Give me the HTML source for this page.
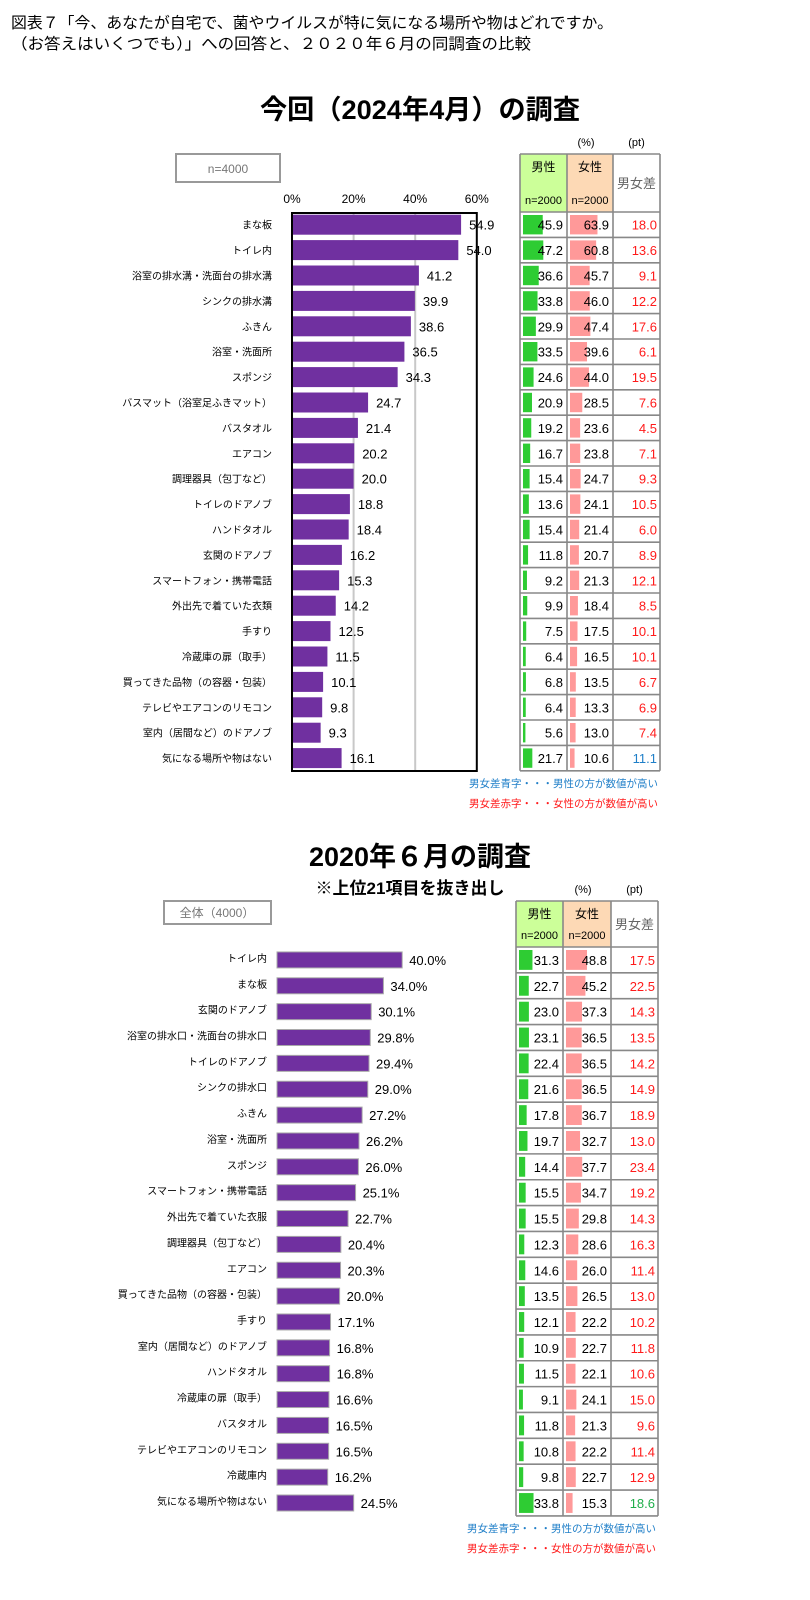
<!DOCTYPE html>
<html><head><meta charset="utf-8"><style>
body{margin:0;background:#fff}
svg{display:block;font-family:"Liberation Sans","Noto Sans CJK JP",sans-serif}
</style></head><body>
<svg id="s" width="810" height="1600" xmlns="http://www.w3.org/2000/svg">
<text x="11" y="28" font-size="15.5" textLength="602" lengthAdjust="spacingAndGlyphs">図表７「今、あなたが自宅で、菌やウイルスが特に気になる場所や物はどれですか。</text>
<text x="11" y="49" font-size="15.5" textLength="520" lengthAdjust="spacingAndGlyphs">（お答えはいくつでも）」への回答と、２０２０年６月の同調査の比較</text>
<text x="420" y="119" font-size="27" font-weight="bold" text-anchor="middle" textLength="320" lengthAdjust="spacingAndGlyphs">今回（2024年4月）の調査</text>
<text x="420" y="866" font-size="27" font-weight="bold" text-anchor="middle">2020年６月の調査</text>
<text x="410" y="894" font-size="17" font-weight="bold" text-anchor="middle">※上位21項目を抜き出し</text>
</svg>
<script>
const labels1=["まな板","トイレ内","浴室の排水溝・洗面台の排水溝","シンクの排水溝","ふきん","浴室・洗面所","スポンジ","バスマット（浴室足ふきマット）","バスタオル","エアコン","調理器具（包丁など）","トイレのドアノブ","ハンドタオル","玄関のドアノブ","スマートフォン・携帯電話","外出先で着ていた衣類","手すり","冷蔵庫の扉（取手）","買ってきた品物（の容器・包装）","テレビやエアコンのリモコン","室内（居間など）のドアノブ","気になる場所や物はない"];
const total1=[54.9,54.0,41.2,39.9,38.6,36.5,34.3,24.7,21.4,20.2,20.0,18.8,18.4,16.2,15.3,14.2,12.5,11.5,10.1,9.8,9.3,16.1];
const male1=[45.9,47.2,36.6,33.8,29.9,33.5,24.6,20.9,19.2,16.7,15.4,13.6,15.4,11.8,9.2,9.9,7.5,6.4,6.8,6.4,5.6,21.7];
const female1=[63.9,60.8,45.7,46.0,47.4,39.6,44.0,28.5,23.6,23.8,24.7,24.1,21.4,20.7,21.3,18.4,17.5,16.5,13.5,13.3,13.0,10.6];
const diff1=[18.0,13.6,9.1,12.2,17.6,6.1,19.5,7.6,4.5,7.1,9.3,10.5,6.0,8.9,12.1,8.5,10.1,10.1,6.7,6.9,7.4,11.1];
const diffColor1=["r","r","r","r","r","r","r","r","r","r","r","r","r","r","r","r","r","r","r","r","r","b"];
const ticks1=[0,20,40,60];
const labels2=["トイレ内","まな板","玄関のドアノブ","浴室の排水口・洗面台の排水口","トイレのドアノブ","シンクの排水口","ふきん","浴室・洗面所","スポンジ","スマートフォン・携帯電話","外出先で着ていた衣服","調理器具（包丁など）","エアコン","買ってきた品物（の容器・包装）","手すり","室内（居間など）のドアノブ","ハンドタオル","冷蔵庫の扉（取手）","バスタオル","テレビやエアコンのリモコン","冷蔵庫内","気になる場所や物はない"];
const total2=[40.0,34.0,30.1,29.8,29.4,29.0,27.2,26.2,26.0,25.1,22.7,20.4,20.3,20.0,17.1,16.8,16.8,16.6,16.5,16.5,16.2,24.5];
const male2=[31.3,22.7,23.0,23.1,22.4,21.6,17.8,19.7,14.4,15.5,15.5,12.3,14.6,13.5,12.1,10.9,11.5,9.1,11.8,10.8,9.8,33.8];
const female2=[48.8,45.2,37.3,36.5,36.5,36.5,36.7,32.7,37.7,34.7,29.8,28.6,26.0,26.5,22.2,22.7,22.1,24.1,21.3,22.2,22.7,15.3];
const diff2=[17.5,22.5,14.3,13.5,14.2,14.9,18.9,13.0,23.4,19.2,14.3,16.3,11.4,13.0,10.2,11.8,10.6,15.0,9.6,11.4,12.9,18.6];
const diffColor2=["r","r","r","r","r","r","r","r","r","r","r","r","r","r","r","r","r","r","r","r","r","g"];

const S=document.getElementById('s');
const NS='http://www.w3.org/2000/svg';
function mk(tag,attrs,txt){const e=document.createElementNS(NS,tag);for(const k in attrs)e.setAttribute(k,attrs[k]);if(txt!==undefined)e.textContent=txt;S.appendChild(e);return e;}
const COL={r:"#ff1a1a",b:"#1f7fc8",g:"#1fae4a"};

// ---- Chart 1 ----
const x1=v=>292+v*3.08;
const y1=i=>212+25.4*i+12.7;
let e;
e=mk('rect',{x:176,y:154,width:104,height:28,fill:'#fff',stroke:'#999','stroke-width':2});


e=mk('text',{x:228,y:173,'font-size':12,fill:'#777','text-anchor':'middle'},'n=4000');


ticks1.forEach(t=>{
  e=mk('text',{x:x1(t),y:203,'font-size':12,'text-anchor':'middle'},t+'%');
  
  
  if(t>0&&t<60){
    e=mk('line',{x1:x1(t),x2:x1(t),y1:213,y2:771,stroke:'#c8c8c8','stroke-width':2});
    
    
  }
});
total1.forEach((v,i)=>{
  e=mk('rect',{x:x1(0),y:y1(i)-10,width:x1(v)-x1(0),height:20,fill:'#7030a0'});
  
  
  e=mk('text',{x:x1(v)+8,y:y1(i)+5,'font-size':13},v.toFixed(1));
  
  
  e=mk('text',{x:272,y:y1(i)+4,'font-size':10,'text-anchor':'end'},labels1[i]);
  
  
});
e=mk('rect',{x:292,y:213,width:x1(60)-292,height:558,fill:'none',stroke:'#000','stroke-width':2});



function table(L,T,hH,rH,cw,male,female,diff,dc,prefix){
  const xs=[L,L+cw[0],L+cw[0]+cw[1],L+cw[0]+cw[1]+cw[2]];
  e=mk('text',{x:(xs[1]+xs[2])/2-4,y:T-8,'font-size':11,'text-anchor':'middle'},'(%)');
  
  
  e=mk('text',{x:(xs[2]+xs[3])/2,y:T-8,'font-size':11,'text-anchor':'middle'},'(pt)');
  
  
  e=mk('rect',{x:xs[0],y:T,width:cw[0],height:hH,fill:'#ccff99'});
  
  
  e=mk('rect',{x:xs[1],y:T,width:cw[1],height:hH,fill:'#fdd9b5'});
  
  
  e=mk('text',{x:(xs[0]+xs[1])/2,y:T+17,'font-size':12,'text-anchor':'middle'},'男性');
  
  
  e=mk('text',{x:(xs[1]+xs[2])/2,y:T+17,'font-size':12,'text-anchor':'middle'},'女性');
  
  
  e=mk('text',{x:(xs[0]+xs[1])/2,y:T+hH-8,'font-size':11,'text-anchor':'middle'},'n=2000');
  
  
  e=mk('text',{x:(xs[1]+xs[2])/2,y:T+hH-8,'font-size':11,'text-anchor':'middle'},'n=2000');
  
  
  e=mk('text',{x:(xs[2]+xs[3])/2,y:T+hH/2+5,'font-size':13,fill:'#666','text-anchor':'middle'},'男女差');
  
  
  const sc=0.43;
  male.forEach((v,i)=>{
    const top=T+hH+rH*i;
    e=mk('rect',{x:xs[0]+3,y:top+3,width:v*sc,height:rH-6,fill:'#2ecc33'});
    
    
    e=mk('rect',{x:xs[1]+3,y:top+3,width:female[i]*sc,height:rH-6,fill:'#ff9999'});
    
    
    e=mk('text',{x:xs[1]-4,y:top+rH/2+5,'font-size':13,'text-anchor':'end'},v.toFixed(1));
    
    
    e=mk('text',{x:xs[2]-4,y:top+rH/2+5,'font-size':13,'text-anchor':'end'},female[i].toFixed(1));
    
    
    e=mk('text',{x:xs[3]-3,y:top+rH/2+5,'font-size':13,'text-anchor':'end',fill:COL[dc[i]]},diff[i].toFixed(1));
    
    
  });
  const B=T+hH+rH*male.length;
  for(let i=0;i<=male.length;i++){
    e=mk('line',{x1:L,x2:xs[3],y1:T+hH+rH*i,y2:T+hH+rH*i,stroke:'#888','stroke-width':1.6});
    
    
  }
  e=mk('line',{x1:L,x2:xs[3],y1:T,y2:T,stroke:'#888','stroke-width':1.6});
  
  
  xs.forEach(x=>{
    e=mk('line',{x1:x,x2:x,y1:T,y2:B,stroke:'#888','stroke-width':1.6});
    
    
  });
  e=mk('text',{x:xs[3]-2,y:B+16,'font-size':10.5,'text-anchor':'end',fill:COL.b},'男女差青字・・・男性の方が数値が高い');
  
  
  e=mk('text',{x:xs[3]-2,y:B+36,'font-size':10.5,'text-anchor':'end',fill:COL.r},'男女差赤字・・・女性の方が数値が高い');
  
  
}
table(520,154,58,25.4,[47,46,47],male1,female1,diff1,diffColor1,'t2024');

// ---- Chart 2 ----
const x2=v=>277+v*3.13;
const y2=i=>947+25.86*i+12.93;
e=mk('rect',{x:164,y:901,width:107,height:23,fill:'#fff',stroke:'#999','stroke-width':2});


e=mk('text',{x:217,y:917,'font-size':12,fill:'#777','text-anchor':'middle'},'全体（4000）');


total2.forEach((v,i)=>{
  e=mk('rect',{x:x2(0),y:y2(i)-8,width:x2(v)-x2(0),height:16,fill:'#7030a0',stroke:'#aaa','stroke-width':1});
  
  
  e=mk('text',{x:x2(v)+7,y:y2(i)+5,'font-size':13},v.toFixed(1)+'%');
  
  
  e=mk('text',{x:267,y:y2(i)+2,'font-size':10,'text-anchor':'end'},labels2[i]);
  
  
});
table(516,901,46,25.86,[47,48,47],male2,female2,diff2,diffColor2,'t2020');
</script>
</body></html>
